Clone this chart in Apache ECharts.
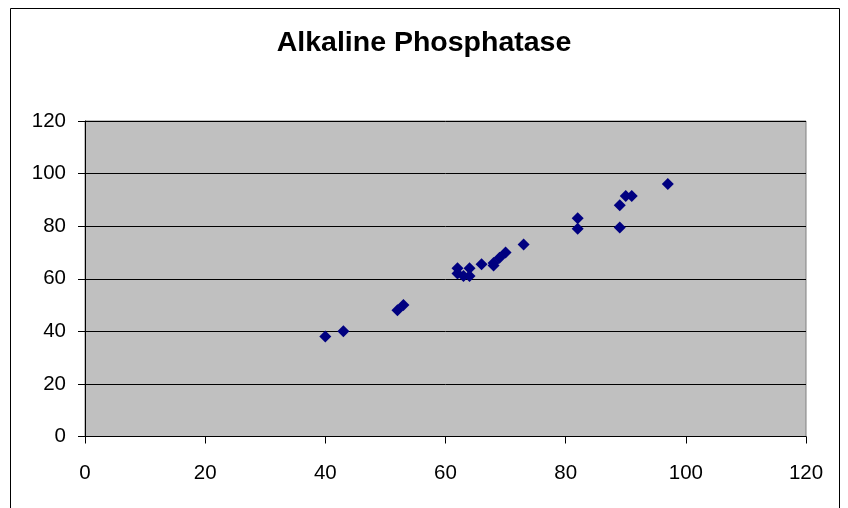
<!DOCTYPE html>
<html>
<head>
  <meta charset="UTF-8">
  <title>Alkaline Phosphatase</title>
  <script src="https://cdn.jsdelivr.net/npm/echarts@6/dist/echarts.min.js"></script>
  <style>
    html, body { margin: 0; padding: 0; background: #ffffff; }
    #chart { width: 848px; height: 508px; }
  </style>
</head>
<body>
<div id="chart"></div>
<script type="text/javascript">
    // values
    var xValues = [40, 43, 52, 53, 62, 62, 63, 64, 64, 66, 68, 68, 69, 70, 73, 82, 82, 89, 89, 90, 91, 97];
    var yValues = [38, 40, 48, 50, 64, 62, 61, 61, 64, 65.5, 65, 66, 68, 70, 73, 83, 79, 88, 79.5, 91.5, 91.5, 96];
    var axisTicks = [0, 20, 40, 60, 80, 100, 120];

    var points = [];
    for (var i = 0; i < xValues.length; i++) {
        points.push([xValues[i], yValues[i]]);
    }

    var labelFont = {
        color: '#000',
        fontSize: 20.5,
        fontFamily: 'Liberation Sans, Arial, sans-serif'
    };

    var myChart = echarts.init(document.getElementById('chart'));
    var option = {
        backgroundColor: '#fff',
        animation: false,
        title: {
            text: 'Alkaline Phosphatase',
            left: 'center',
            top: 24,
            textStyle: {
                color: '#000',
                fontSize: 28.5,
                fontWeight: 'bold',
                fontFamily: 'Liberation Sans, Arial, sans-serif'
            }
        },
        graphic: [{
            type: 'rect',
            shape: { x: 10.5, y: 8.5, width: 829, height: 510 },
            style: { fill: null, stroke: '#000', lineWidth: 1 },
            silent: true
        }],
        grid: {
            left: 85,
            right: 42,
            top: 121,
            bottom: 71.5,
            show: true,
            backgroundColor: '#c0c0c0',
            borderColor: '#808080',
            borderWidth: 1,
            outerBoundsMode: 'none'
        },
        xAxis: {
            type: 'value',
            min: axisTicks[0],
            max: axisTicks[axisTicks.length - 1],
            interval: 20,
            axisLine: { show: true, onZero: false, lineStyle: { color: '#000', width: 1 } },
            axisTick: { show: true, inside: false, length: 7, lineStyle: { color: '#000' } },
            axisLabel: Object.assign({ margin: 26 }, labelFont),
            splitLine: { show: false }
        },
        yAxis: {
            type: 'value',
            min: axisTicks[0],
            max: axisTicks[axisTicks.length - 1],
            interval: 20,
            axisLine: { show: true, onZero: false, lineStyle: { color: '#000', width: 1 } },
            axisTick: { show: true, inside: false, length: 7, lineStyle: { color: '#000' } },
            axisLabel: Object.assign({ margin: 19 }, labelFont),
            splitLine: { show: true, lineStyle: { color: '#000', width: 1 } }
        },
        series: [{
            type: 'scatter',
            symbol: 'diamond',
            symbolSize: [12, 12],
            itemStyle: { color: '#000080', opacity: 1 },
            data: points
        }]
    };
    myChart.setOption(option);
</script>
</body>
</html>
